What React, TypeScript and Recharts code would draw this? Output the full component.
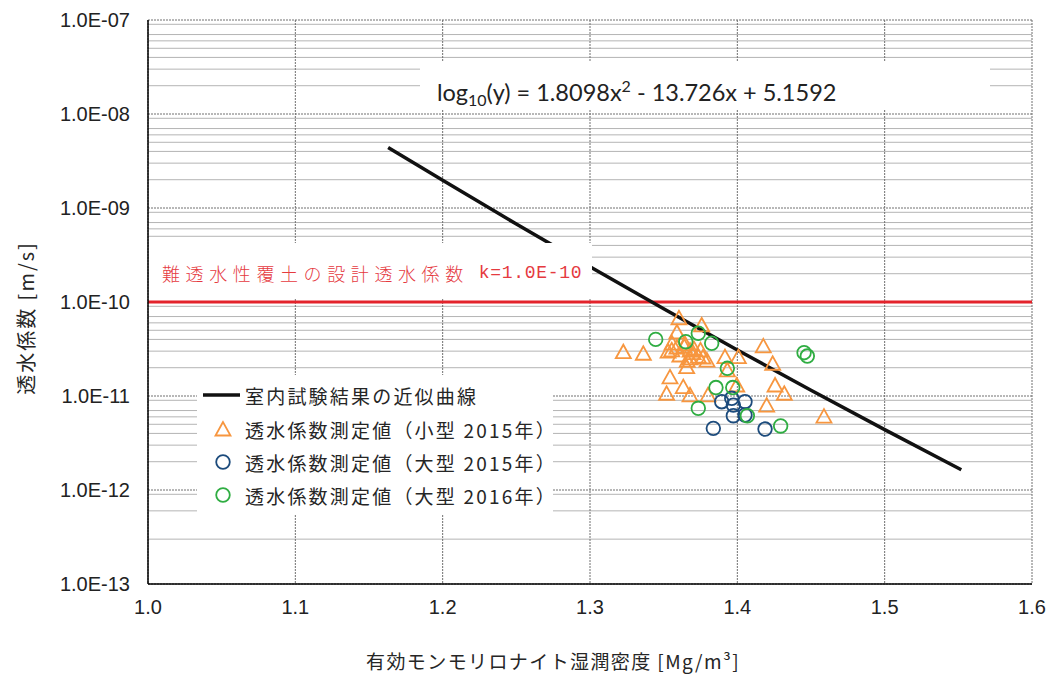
import React from 'react';
import {
  ComposedChart,
  Line,
  Scatter,
  XAxis,
  YAxis,
  CartesianGrid,
  ReferenceLine,
} from 'recharts';

// ---- axis ticks ----
const xTicks = [1.0, 1.1, 1.2, 1.3, 1.4, 1.5, 1.6];
const xTickLabels = ['1.0', '1.1', '1.2', '1.3', '1.4', '1.5', '1.6'];
const yTicks = [1e-13, 1e-12, 1e-11, 1e-10, 1e-9, 1e-8, 1e-7];
const yTickLabels = ['1.0E-13', '1.0E-12', '1.0E-11', '1.0E-10', '1.0E-09', '1.0E-08', '1.0E-07'];

// ---- fitted curve ----
const fitX = [1.163, 1.2, 1.25, 1.3, 1.35, 1.4, 1.45, 1.5, 1.552];
const fitY = [4.41e-9, 1.97e-9, 6.75e-10, 2.37e-10, 8.46e-11, 3.09e-11, 1.15e-11, 4.39e-12, 1.64e-12];

// ---- measured values: small 2015 (triangles) ----
const smallX2015 = [
  1.3604, 1.3758, 1.359, 1.3226, 1.3362, 1.3557, 1.359, 1.3645, 1.3679, 1.3706, 1.3735, 1.3767,
  1.361, 1.3679, 1.3794, 1.353, 1.3656, 1.3543, 1.352, 1.3633, 1.3679, 1.3801, 1.3916, 1.4007,
  1.4176, 1.424, 1.3996, 1.4256, 1.4319, 1.4199, 1.4588, 1.3932,
  1.3555, 1.364, 1.37, 1.375, 1.366,
];
const smallY2015 = [
  6.8e-11, 5.7e-11, 4.8e-11, 2.96e-11, 2.85e-11, 3.66e-11, 3.32e-11, 3.6e-11, 3.08e-11, 3.2e-11, 2.66e-11, 2.6e-11,
  2.73e-11, 2.54e-11, 2.41e-11, 3.0e-11, 2.05e-11, 1.6e-11, 1.07e-11, 1.26e-11, 1.03e-11, 1.03e-11, 2.62e-11, 2.62e-11,
  3.41e-11, 2.23e-11, 1.31e-11, 1.31e-11, 1.07e-11, 8.0e-12, 6.1e-12, 1.9e-11,
  3.1e-11, 3.4e-11, 2.9e-11, 3.1e-11, 2.4e-11,
];

// ---- measured values: large 2015 (blue circles) ----
const largeX2015 = [1.3962, 1.3894, 1.3973, 1.4052, 1.3973, 1.4052, 1.3837, 1.4188];
const largeY2015 = [9.45e-12, 8.7e-12, 8.0e-12, 8.7e-12, 6.17e-12, 6.28e-12, 4.53e-12, 4.45e-12];

// ---- measured values: large 2016 (green circles) ----
const largeX2016 = [1.3446, 1.365, 1.3735, 1.3826, 1.3932, 1.3855, 1.3969, 1.3735, 1.4068, 1.4294, 1.4453, 1.4475];
const largeY2016 = [4.0e-11, 3.78e-11, 4.65e-11, 3.64e-11, 1.97e-11, 1.23e-11, 1.23e-11, 7.4e-12, 6.17e-12, 4.8e-12, 2.89e-11, 2.66e-11];

const designK = 1.0e-10;

const seriesNames = [
  '室内試験結果の近似曲線',
  '透水係数測定値（小型 2015年）',
  '透水係数測定値（大型 2015年）',
  '透水係数測定値（大型 2016年）',
];
const designLabelJa = '難透水性覆土の設計透水係数';
const designLabelK = 'k=1.0E-10';
const xTitle = '有効モンモリロナイト湿潤密度 [Mg/m³]';
const yTitle = '透水係数 [m/s]';

const ORANGE = '#f7963f';
const BLUE = '#1c4b7c';
const GREEN = '#2fad42';
const RED = '#e3232b';

const minorGrid: number[] = [];
for (let d = -13; d < -7; d++) {
  for (let m = 2; m <= 9; m++) minorGrid.push(m * Math.pow(10, d));
}

const fitData = fitX.map((x, i) => ({ x, y: fitY[i] }));
const smallData = smallX2015.map((x, i) => ({ x, y: smallY2015[i] }));
const large15Data = largeX2015.map((x, i) => ({ x, y: largeY2015[i] }));
const large16Data = largeX2016.map((x, i) => ({ x, y: largeY2016[i] }));

const triPoints = (cx: number, cy: number) =>
  `${cx},${cy - 7} ${cx - 7.5},${cy + 6.5} ${cx + 7.5},${cy + 6.5}`;

const TriangleShape = (props: any) => {
  const { cx, cy } = props;
  if (cx == null || cy == null) return null;
  return <polygon points={triPoints(cx, cy)} fill="none" stroke={ORANGE} strokeWidth={1.8} />;
};
const makeCircle = (color: string) => (props: any) => {
  const { cx, cy } = props;
  if (cx == null || cy == null) return null;
  return <circle cx={cx} cy={cy} r={6.8} fill="none" stroke={color} strokeWidth={1.8} />;
};
const BlueCircle = makeCircle(BLUE);
const GreenCircle = makeCircle(GREEN);

const tickFont = { fontFamily: '"Liberation Sans", Arial, sans-serif', fontSize: 20, fill: '#222' };
const cjkFont = '"Noto Sans CJK JP", "Noto Sans", sans-serif';

export default function App() {
  return (
    <div style={{ width: 1048, height: 675, padding: 8, boxSizing: 'border-box', background: '#fff' }}>
      <style>{'body{margin:0}'}</style>
      <div style={{ position: 'relative', width: 1040, height: 667 }}>
        <ComposedChart width={1040} height={667} margin={{ top: 12, right: 16, bottom: 0, left: 0 }}>
          <CartesianGrid vertical={false} horizontalValues={minorGrid} stroke="#b4b4b4" strokeWidth={1} />
          <CartesianGrid
            horizontalValues={yTicks}
            verticalValues={xTicks}
            stroke="#707070"
            strokeDasharray="2 1"
            strokeWidth={1}
          />
          <XAxis
            dataKey="x"
            type="number"
            domain={[1.0, 1.6]}
            ticks={xTicks}
            tickFormatter={(v: number, i: number) => xTickLabels[i]}
            allowDataOverflow
            height={91}
            tickLine={false}
            tickSize={6}
            tickMargin={10}
            axisLine={{ stroke: '#000', strokeWidth: 1.5 }}
            tick={tickFont}
          />
          <YAxis
            dataKey="y"
            type="number"
            scale="log"
            domain={[1e-13, 1e-7]}
            ticks={yTicks}
            tickFormatter={(v: number, i: number) => yTickLabels[i]}
            allowDataOverflow
            width={140}
            tickLine={false}
            tickSize={8}
            tickMargin={10}
            axisLine={{ stroke: '#000', strokeWidth: 1.5 }}
            tick={tickFont}
            label={{
              value: yTitle,
              content: () => (
                <text
                  x={17}
                  y={310}
                  transform="rotate(-90, 17, 310)"
                  textAnchor="middle"
                  dominantBaseline="central"
                  style={{ fontFamily: cjkFont, fontSize: 20, letterSpacing: 2, fill: '#262626' }}
                >
                  {yTitle}
                </text>
              ),
            }}
          />
          <ReferenceLine y={designK} stroke={RED} strokeWidth={3} ifOverflow="extendDomain" />
          <Line
            data={fitData}
            dataKey="y"
            type="monotone"
            stroke="#111"
            strokeWidth={3.5}
            dot={false}
            activeDot={false}
            isAnimationActive={false}
            name={seriesNames[0]}
          />
          <Scatter data={smallData} shape={TriangleShape} isAnimationActive={false} name={seriesNames[1]} />
          <Scatter data={large15Data} shape={BlueCircle} isAnimationActive={false} name={seriesNames[2]} />
          <Scatter data={large16Data} shape={GreenCircle} isAnimationActive={false} name={seriesNames[3]} />
        </ComposedChart>

        {/* x-axis title */}
        <div
          style={{
            position: 'absolute',
            left: 295,
            top: 643,
            width: 500,
            height: 20,
            lineHeight: '20px',
            textAlign: 'center',
            fontFamily: cjkFont,
            fontSize: 19,
            letterSpacing: 1.4,
            color: '#262626',
            whiteSpace: 'nowrap',
          }}
        >
          {xTitle}
        </div>

        {/* equation box */}
        <div
          style={{
            position: 'absolute',
            left: 412,
            top: 54,
            width: 570,
            height: 48,
            background: '#fff',
            boxSizing: 'border-box',
            paddingLeft: 17,
            paddingTop: 12,
            display: 'flex',
            alignItems: 'center',
            fontFamily: 'Lato, "Open Sans", sans-serif',
            fontSize: 23.5,
            color: '#222',
            whiteSpace: 'nowrap',
          }}
        >
          <span>
            log<sub style={{ fontSize: 16, verticalAlign: '-0.3em', lineHeight: 0 }}>10</sub>(y) = 1.8098x
            <sup style={{ fontSize: 16, verticalAlign: '0.55em', lineHeight: 0 }}>2</sup> - 13.726x + 5.1592
          </span>
        </div>

        {/* design value label */}
        <div
          style={{
            position: 'absolute',
            left: 141,
            top: 235,
            width: 443,
            height: 55,
            background: '#fff',
            boxSizing: 'border-box',
            paddingLeft: 13,
            paddingTop: 5,
            display: 'flex',
            alignItems: 'center',
            color: '#e53a3f',
            fontSize: 18,
            whiteSpace: 'nowrap',
          }}
        >
          <span style={{ fontFamily: cjkFont, fontWeight: 300, letterSpacing: 5.6 }}>{designLabelJa}</span>
          <span style={{ fontFamily: '"Liberation Mono", monospace', letterSpacing: 0.7, marginLeft: 10 }}>
            {designLabelK}
          </span>
        </div>

        {/* legend */}
        <div
          style={{
            position: 'absolute',
            left: 189,
            top: 367,
            width: 356,
            height: 140,
            background: '#fff',
            fontFamily: cjkFont,
            fontSize: 19,
            color: '#262626',
          }}
        >
          {seriesNames.map((name, i) => {
            const centers = [20, 54, 87, 120];
            return (
              <div
                key={name}
                style={{
                  position: 'absolute',
                  left: 0,
                  top: centers[i] - 14,
                  height: 28,
                  width: 370,
                  display: 'flex',
                  alignItems: 'center',
                  whiteSpace: 'nowrap',
                }}
              >
                <svg width={48} height={28} style={{ flex: 'none' }}>
                  {i === 0 && <line x1={6} y1={14} x2={43} y2={14} stroke="#111" strokeWidth={3.5} />}
                  {i === 1 && <polygon points={triPoints(26, 14)} fill="none" stroke={ORANGE} strokeWidth={1.8} />}
                  {i === 2 && <circle cx={26} cy={14} r={6.8} fill="none" stroke={BLUE} strokeWidth={1.8} />}
                  {i === 3 && <circle cx={26} cy={14} r={6.8} fill="none" stroke={GREEN} strokeWidth={1.8} />}
                </svg>
                <span style={{ letterSpacing: 2.2 }}>{name}</span>
              </div>
            );
          })}
        </div>
      </div>
    </div>
  );
}
